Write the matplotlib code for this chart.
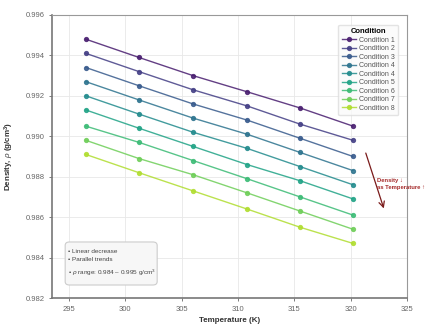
import numpy as np
import matplotlib
matplotlib.use("Agg")
import matplotlib.pyplot as plt
from matplotlib.patches import FancyBboxPatch

# temperatures (K) sampled for every condition
temperature = [296.5, 301.2, 306.0, 310.8, 315.5, 320.2]

# density (g/cm^3) per condition
cond_1 = [0.9948, 0.9939, 0.9930, 0.9922, 0.9914, 0.9905]
cond_2 = [0.9941, 0.9932, 0.9923, 0.9915, 0.9906, 0.9898]
cond_3 = [0.9934, 0.9925, 0.9916, 0.9908, 0.9899, 0.9890]
cond_4a = [0.9927, 0.9918, 0.9909, 0.9901, 0.9892, 0.9883]
cond_4b = [0.9920, 0.9911, 0.9902, 0.9894, 0.9885, 0.9876]
cond_5 = [0.9913, 0.9904, 0.9895, 0.9886, 0.9878, 0.9869]
cond_6 = [0.9905, 0.9897, 0.9888, 0.9879, 0.9870, 0.9861]
cond_7 = [0.9898, 0.9889, 0.9881, 0.9872, 0.9863, 0.9854]
cond_8 = [0.9891, 0.9882, 0.9873, 0.9864, 0.9855, 0.9847]

series = [cond_1, cond_2, cond_3, cond_4a, cond_4b, cond_5, cond_6, cond_7, cond_8]
labels = ["Condition 1", "Condition 2", "Condition 3", "Condition 4", "Condition 4",
          "Condition 5", "Condition 6", "Condition 7", "Condition 8"]

yticks = [0.982, 0.984, 0.986, 0.988, 0.990, 0.992, 0.994, 0.996]
xticks = [295, 300, 305, 310, 315, 320, 325]

plt.rcParams['font.family'] = ['Liberation Sans', 'DejaVu Sans']
plt.rcParams['mathtext.fontset'] = 'custom'
plt.rcParams['mathtext.rm'] = 'Liberation Sans'
plt.rcParams['mathtext.it'] = 'Liberation Sans:italic'
plt.rcParams['mathtext.bf'] = 'Liberation Sans:bold'

fig = plt.figure(figsize=(4.3, 3.25), dpi=100)
ax = fig.add_axes([0.121, 0.083, 0.826, 0.871])

colors = plt.cm.viridis(np.linspace(0.08, 0.88, len(series)))
for vals, lab, c in zip(series, labels, colors):
    ax.plot(temperature, vals, '-o', color=c, lw=1.0, ms=2.8, alpha=0.85, label=lab)

ax.set_xlim(293.5, 325)
ax.set_ylim(0.982, 0.996)
ax.set_xticks(xticks)
ax.set_yticks(yticks)
ax.set_yticklabels([f"{v:.3f}" for v in yticks])
ax.tick_params(labelsize=5.5, colors='#666666', length=2, width=0.6)
ax.grid(True, color='#e8e8e8', lw=0.6)
ax.set_axisbelow(True)
for side in ['left', 'bottom']:
    ax.spines[side].set_color('#777777')
    ax.spines[side].set_linewidth(1.2)
for side in ['top', 'right']:
    ax.spines[side].set_color('#999999')
    ax.spines[side].set_linewidth(0.8)

ax.set_xlabel("Temperature (K)", fontsize=5.8, fontweight='bold', color='#333333', labelpad=3)
ax.set_ylabel(r"Density, $\rho$ (g/cm$^\mathbf{3}$)", fontsize=5.8, fontweight='bold',
              color='#333333', labelpad=7)

leg = ax.legend(title="Condition", loc='upper right', fontsize=5, title_fontsize=5.5,
                frameon=True, fancybox=True, borderpad=0.5, labelspacing=0.22,
                handlelength=2.0, handletextpad=0.5, bbox_to_anchor=(0.985, 0.978))
leg.get_title().set_fontweight('bold')
leg.get_frame().set_facecolor('#fafafa')
leg.get_frame().set_edgecolor('#dddddd')
for t in leg.get_texts():
    t.set_color('#555555')

# trend arrow and note on the right
ax.annotate("", xy=(323.0, 0.9863), xytext=(321.25, 0.9893),
            arrowprops=dict(arrowstyle='->', color='#7a1a1a', lw=0.9))
ax.text(322.35, 0.98765, "Density \u2193\nas Temperature \u2191", fontsize=4.2,
        family=['Liberation Sans', 'DejaVu Sans'],
        fontweight='bold', color='#a52a2a', va='center', ha='left', clip_on=False,
        linespacing=1.5)

# summary box in the lower left
box = FancyBboxPatch((0.037, 0.046), 0.259, 0.152, transform=ax.transAxes,
                     boxstyle='round,pad=0,rounding_size=0.012',
                     facecolor='#f7f7f7', edgecolor='#cccccc', lw=0.8, zorder=4)
ax.add_patch(box)
ax.text(0.045, 0.122, "\u2022 Linear decrease\n\u2022 Parallel trends\n\u2022 $\\rho$ range: 0.984 \u2013 0.995 g/cm$^3$",
        transform=ax.transAxes, fontsize=4.6, color='#444444', va='center', ha='left',
        linespacing=1.7, zorder=5)

fig.savefig("out.png", dpi=100)
